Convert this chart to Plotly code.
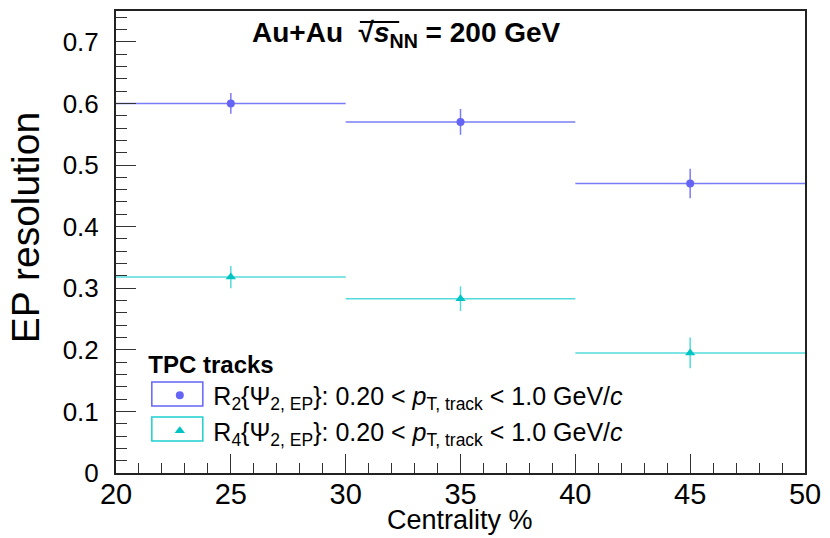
import plotly.graph_objects as go

# centrality bins (%), bin centres and half widths
centrality = [25, 35, 45]
bin_half_width = [5, 5, 5]

# event-plane resolution values
r2_values = [0.600, 0.570, 0.470]
r2_errors = [0.017, 0.021, 0.024]
r4_values = [0.318, 0.283, 0.195]
r4_errors = [0.018, 0.020, 0.025]

x_ticks = [20, 25, 30, 35, 40, 45, 50]
y_ticks = [0, 0.1, 0.2, 0.3, 0.4, 0.5, 0.6, 0.7]
y_tick_labels = ["0", "0.1", "0.2", "0.3", "0.4", "0.5", "0.6", "0.7"]

BLUE = "#6464f5"
CYAN = "#1ccfcf"
FONT = "Liberation Sans, Arial, sans-serif"

fig = go.Figure()

fig.add_trace(
    go.Scatter(
        x=centrality,
        y=r2_values,
        mode="markers",
        name="R<sub>2</sub>{Ψ<sub>2, EP</sub>}: 0.20 < <i>p</i><sub>T, track</sub> < 1.0 GeV/<i>c</i>",
        marker=dict(symbol="circle", size=8, color=BLUE),
        error_x=dict(type="data", array=bin_half_width, width=0, thickness=1.5, color="rgba(100,100,245,0.85)"),
        error_y=dict(type="data", array=r2_errors, width=0, thickness=1.5, color="rgba(100,100,245,0.85)"),
    )
)
fig.add_trace(
    go.Scatter(
        x=centrality,
        y=r4_values,
        mode="markers",
        name="R<sub>4</sub>{Ψ<sub>2, EP</sub>}: 0.20 < <i>p</i><sub>T, track</sub> < 1.0 GeV/<i>c</i>",
        marker=dict(symbol="triangle-up", size=9, color="#00c4c4"),
        error_x=dict(type="data", array=bin_half_width, width=0, thickness=1.5, color="rgba(40,210,210,0.8)"),
        error_y=dict(type="data", array=r4_errors, width=0, thickness=1.5, color="rgba(40,210,210,0.8)"),
    )
)

# ROOT-like frame: ticks inside on bottom/left, plain line on top/right
fig.update_xaxes(
    range=[20, 50],
    tickvals=x_ticks,
    ticks="inside",
    ticklen=19,
    tickwidth=1.2,
    tickcolor="#333",
    minor=dict(dtick=1, ticks="inside", ticklen=10, tickwidth=1.2, tickcolor="#333"),
    showline=True,
    linecolor="#222",
    linewidth=2,
    mirror=True,
    showgrid=False,
    zeroline=False,
    automargin=False,
    ticklabelstandoff=-6,
    tickfont=dict(size=29, color="black", family=FONT),
)
fig.update_yaxes(
    range=[0, 0.75],
    tickvals=y_ticks,
    ticktext=y_tick_labels,
    ticks="inside",
    ticklen=20,
    tickwidth=1.2,
    tickcolor="#333",
    minor=dict(dtick=0.02, ticks="inside", ticklen=11, tickwidth=1.2, tickcolor="#333"),
    showline=True,
    linecolor="#222",
    linewidth=2,
    mirror=True,
    showgrid=False,
    zeroline=False,
    automargin=False,
    ticklabelstandoff=10,
    tickfont=dict(size=26, color="black", family=FONT),
)

# the page body adds 8px on the left/top, so the figure is 8px smaller
fig.update_layout(
    width=822,
    height=530,
    margin=dict(l=108, r=25, t=3, b=65),
    paper_bgcolor="white",
    plot_bgcolor="white",
    font=dict(family=FONT, color="black"),
    showlegend=True,
    legend=dict(
        x=0.044,
        y=0.285,
        xanchor="left",
        yanchor="top",
        bgcolor="rgba(0,0,0,0)",
        title=dict(text="<b>TPC tracks</b>", font=dict(size=24, family=FONT)),
        font=dict(size=25, family=FONT),
        itemwidth=57,
        tracegroupgap=0,
    ),
    annotations=[
        dict(
            text="<b>Au+Au  √<i>s</i><sub>NN</sub> = 200 GeV</b>",
            x=0.422,
            y=0.950,
            xref="paper",
            yref="paper",
            showarrow=False,
            font=dict(size=28, family=FONT),
            xanchor="center",
            yanchor="middle",
        ),
        dict(
            text="EP resolution",
            x=-0.132,
            y=0.53,
            xref="paper",
            yref="paper",
            textangle=-90,
            showarrow=False,
            font=dict(size=39, family=FONT),
            xanchor="center",
            yanchor="middle",
        ),
        dict(
            text="Centrality %",
            x=0.499,
            y=-0.101,
            xref="paper",
            yref="paper",
            showarrow=False,
            font=dict(size=27, family=FONT),
            xanchor="center",
            yanchor="middle",
        ),
    ],
    shapes=[
        dict(type="rect", xref="paper", yref="paper", x0=0.052, x1=0.126, y0=0.145, y1=0.197,
             line=dict(color=BLUE, width=1.5)),
        dict(type="rect", xref="paper", yref="paper", x0=0.052, x1=0.126, y0=0.069, y1=0.121,
             line=dict(color=CYAN, width=1.5)),
        # overline of the square-root sign
        dict(type="line", xref="paper", yref="paper", x0=0.354, x1=0.411, y0=0.976, y1=0.976,
             line=dict(color="black", width=2)),
    ],
)

fig.write_html("out.html")
